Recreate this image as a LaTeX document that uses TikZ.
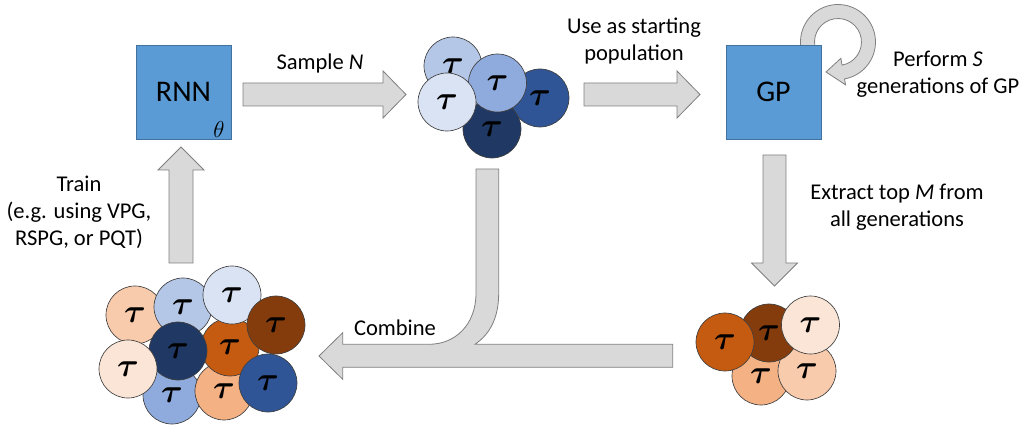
\documentclass[tikz,border=0pt]{standalone}
\usepackage{fontspec}
\setmainfont{Carlito}
\usepackage{amsmath}
\usetikzlibrary{calc}
\definecolor{boxblue}{HTML}{5B9BD5}
\definecolor{boxedge}{HTML}{41719C}
\definecolor{arrfill}{HTML}{D9D9D9}
\definecolor{arredge}{HTML}{7F7F7F}
\definecolor{circedge}{HTML}{404040}
\definecolor{bA}{HTML}{DAE3F3}
\definecolor{bB}{HTML}{B4C7E7}
\definecolor{bC}{HTML}{8FAADC}
\definecolor{bD}{HTML}{2F5597}
\definecolor{bE}{HTML}{203864}
\definecolor{oA}{HTML}{FBE5D6}
\definecolor{oB}{HTML}{F8CBAD}
\definecolor{oC}{HTML}{F4B183}
\definecolor{oD}{HTML}{C55A11}
\definecolor{oE}{HTML}{843C0C}
\newcommand{\tautxt}{$\boldsymbol{\tau}$}
\begin{document}
\begin{tikzpicture}[x=0.75pt,y=-0.75pt,
  box/.style={draw=boxedge, line width=0.6pt, fill=boxblue, minimum width=71.25pt, minimum height=70.5pt, inner sep=0pt, font=\fontsize{22.5}{27}\selectfont},
  tcirc/.style={circle, draw=circedge, line width=0.5pt, minimum size=43.5pt, inner sep=0pt, font=\fontsize{31}{31}\selectfont},
  blockarrow/.style={draw=arredge, fill=arrfill, line width=0.6pt, line join=miter},
  lbl/.style={align=center, font=\fontsize{16.9}{20.3}\selectfont, inner sep=0pt}]
\useasboundingbox (0,0) rectangle (1026,427);

% self loop arrow (drawn before GP box)
\coordinate (lc) at (838,42);
\coordinate (looptip) at (826,72);
\draw[blockarrow] ($(lc)+(190:28.125pt)$) arc[start angle=190, end angle=-80, radius=28.125pt]
  -- ($(lc)+(-80:32.6pt)$) -- (looptip) -- ($(lc)+(-80:12.4pt)$) -- ($(lc)+(-80:17.6pt)$)
  arc[start angle=-80, end angle=190, radius=17.6pt] -- cycle;

% boxes
\node[box] (rnn) at (183.5,92) {RNN};
\node[font=\fontsize{16}{18}\selectfont, inner sep=0pt] (theta) at (219,130) {$\theta$};
\node[box] (gp) at (773.5,92) {GP};

% block arrows
\draw[blockarrow] (243,83) -- (383,83) -- (383,71) -- (406,94.5) -- (383,118) -- (383,106) -- (243,106) -- cycle;
\draw[blockarrow] (584,83) -- (677,83) -- (677,71) -- (700,94.5) -- (677,118) -- (677,106) -- (584,106) -- cycle;
\draw[blockarrow] (763,155) -- (786,155) -- (786,263) -- (797.5,263) -- (774.5,286) -- (751.5,263) -- (763,263) -- cycle;
\draw[blockarrow] (169,263) -- (169,170) -- (158,170) -- (181,147) -- (204,170) -- (193,170) -- (193,263) -- cycle;
\draw[blockarrow] (319,356) -- (342.7,332.7) -- (342.7,344.3) -- (429,344.3)
  .. controls (455,344.3) and (476,325) .. (476,293) -- (476,169) -- (498.7,169) -- (498.7,293)
  .. controls (498.7,318) and (490,334) .. (475,344.3) -- (672.7,344.3) -- (672.7,367.3)
  -- (342.7,367.3) -- (342.7,379.3) -- cycle;

% cluster 1 (sampled)
\node[tcirc, fill=bB] (s1) at (453,66) {\tautxt};
\node[tcirc, fill=bD] (s2) at (540,98) {\tautxt};
\node[tcirc, fill=bE] (s3) at (492,129) {\tautxt};
\node[tcirc, fill=bC] (s4) at (497.5,83) {\tautxt};
\node[tcirc, fill=bA] (s5) at (447,102) {\tautxt};

% cluster 3 (top M)
\node[tcirc, fill=oC] (m1) at (761,376) {\tautxt};
\node[tcirc, fill=oB] (m2) at (807,371) {\tautxt};
\node[tcirc, fill=oE] (m3) at (769,333) {\tautxt};
\node[tcirc, fill=oD] (m4) at (725,342) {\tautxt};
\node[tcirc, fill=oA] (m5) at (810.5,325) {\tautxt};

% cluster 2 (combined)
\node[tcirc, fill=oB] (c1) at (135,315) {\tautxt};
\node[tcirc, fill=bB] (c2) at (183,307) {\tautxt};
\node[tcirc, fill=bC] (c3) at (172,395) {\tautxt};
\node[tcirc, fill=oC] (c4) at (224,391) {\tautxt};
\node[tcirc, fill=oD] (c5) at (230,347) {\tautxt};
\node[tcirc, fill=bA] (c6) at (232,295) {\tautxt};
\node[tcirc, fill=oE] (c7) at (276,325) {\tautxt};
\node[tcirc, fill=bD] (c8) at (268,383) {\tautxt};
\node[tcirc, fill=bE] (c9) at (178,351) {\tautxt};
\node[tcirc, fill=oA] (c10) at (128,369) {\tautxt};

% labels
\node[lbl, anchor=base] (lsample) at (320,70) {Sample \textit{N}};
\node[lbl] (luse) at (634,41) {Use as starting\\population};
\node[lbl] (lperf) at (938,74) {Perform \textit{S}\\generations of GP};
\node[lbl] (lext) at (897,207) {Extract top \textit{M} from\\all generations};
\node[lbl, anchor=base] (lcomb) at (395,336) {Combine};
\node[lbl] (ltrain) at (79,212) {Train\\(e.g. using VPG,\\RSPG, or PQT)};
\end{tikzpicture}
\end{document}
